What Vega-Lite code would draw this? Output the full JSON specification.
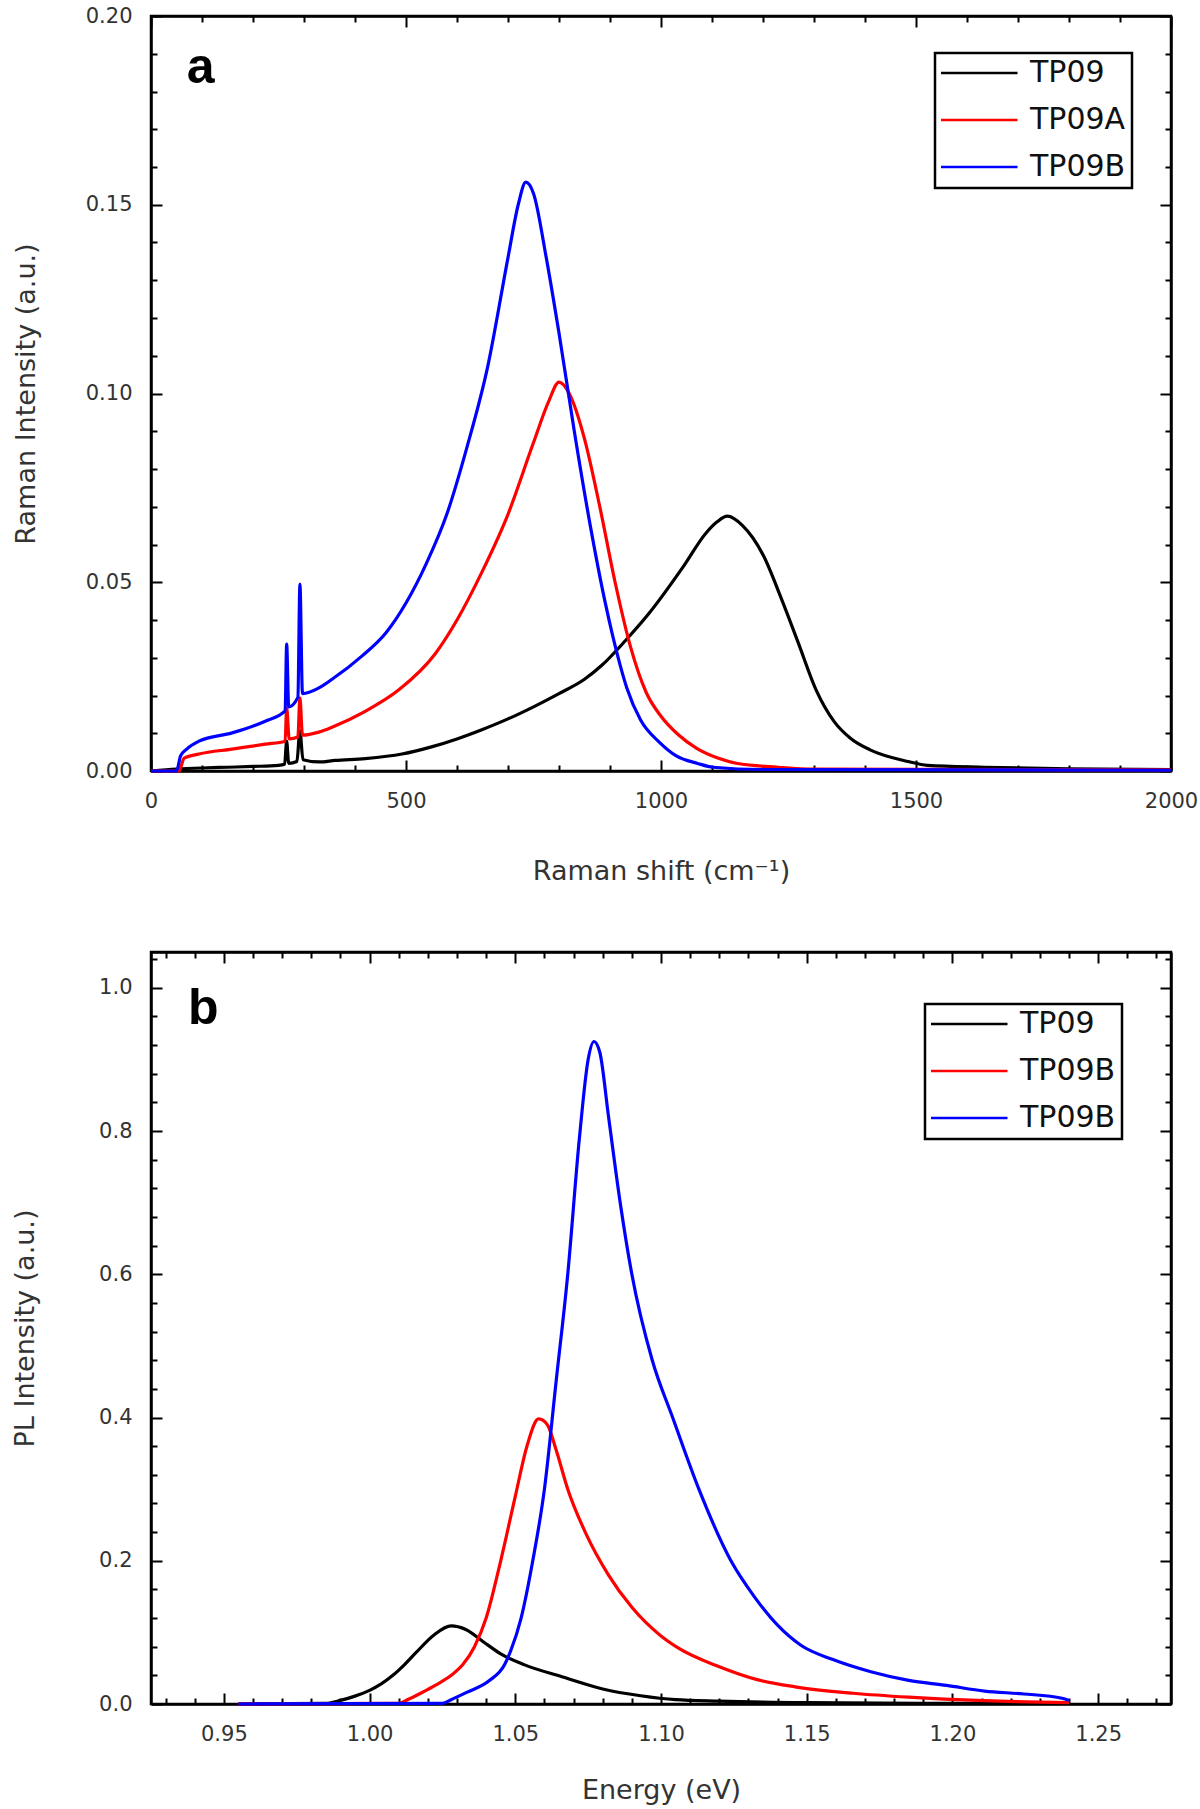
{
  "$schema": "https://vega.github.io/schema/vega-lite/v6.json",
  "background": "white",
  "padding": {"left": 10, "top": 3, "right": 10, "bottom": 5},
  "spacing": 181,
  "bounds": "flush",
  "resolve": {"scale": {"color": "independent"}, "legend": {"color": "independent"}},
  "datasets": {
    "raman": [
      {"shift": 0, "intensity": 0, "sample": "TP09"},
      {"shift": 50, "intensity": 0.0005, "sample": "TP09"},
      {"shift": 100, "intensity": 0.0008, "sample": "TP09"},
      {"shift": 150, "intensity": 0.001, "sample": "TP09"},
      {"shift": 200, "intensity": 0.0012, "sample": "TP09"},
      {"shift": 250, "intensity": 0.0015, "sample": "TP09"},
      {"shift": 262, "intensity": 0.0018, "sample": "TP09"},
      {"shift": 266, "intensity": 0.0079, "sample": "TP09"},
      {"shift": 270, "intensity": 0.002, "sample": "TP09"},
      {"shift": 286, "intensity": 0.0025, "sample": "TP09"},
      {"shift": 292, "intensity": 0.0106, "sample": "TP09"},
      {"shift": 298, "intensity": 0.003, "sample": "TP09"},
      {"shift": 330, "intensity": 0.0024, "sample": "TP09"},
      {"shift": 361, "intensity": 0.0028, "sample": "TP09"},
      {"shift": 420, "intensity": 0.0033, "sample": "TP09"},
      {"shift": 492, "intensity": 0.0045, "sample": "TP09"},
      {"shift": 550, "intensity": 0.0064, "sample": "TP09"},
      {"shift": 600, "intensity": 0.0085, "sample": "TP09"},
      {"shift": 650, "intensity": 0.011, "sample": "TP09"},
      {"shift": 700, "intensity": 0.0138, "sample": "TP09"},
      {"shift": 753, "intensity": 0.0172, "sample": "TP09"},
      {"shift": 800, "intensity": 0.0205, "sample": "TP09"},
      {"shift": 850, "intensity": 0.0243, "sample": "TP09"},
      {"shift": 884, "intensity": 0.028, "sample": "TP09"},
      {"shift": 930, "intensity": 0.0345, "sample": "TP09"},
      {"shift": 975, "intensity": 0.0415, "sample": "TP09"},
      {"shift": 1043, "intensity": 0.054, "sample": "TP09"},
      {"shift": 1088, "intensity": 0.063, "sample": "TP09"},
      {"shift": 1110, "intensity": 0.066, "sample": "TP09"},
      {"shift": 1130, "intensity": 0.0675, "sample": "TP09"},
      {"shift": 1160, "intensity": 0.065, "sample": "TP09"},
      {"shift": 1201, "intensity": 0.057, "sample": "TP09"},
      {"shift": 1235, "intensity": 0.046, "sample": "TP09"},
      {"shift": 1269, "intensity": 0.034, "sample": "TP09"},
      {"shift": 1304, "intensity": 0.0215, "sample": "TP09"},
      {"shift": 1340, "intensity": 0.013, "sample": "TP09"},
      {"shift": 1372, "intensity": 0.0086, "sample": "TP09"},
      {"shift": 1410, "intensity": 0.0056, "sample": "TP09"},
      {"shift": 1485, "intensity": 0.0025, "sample": "TP09"},
      {"shift": 1522, "intensity": 0.0015, "sample": "TP09"},
      {"shift": 1635, "intensity": 0.001, "sample": "TP09"},
      {"shift": 1800, "intensity": 0.0006, "sample": "TP09"},
      {"shift": 2000, "intensity": 0.0004, "sample": "TP09"},

      {"shift": 0, "intensity": 0, "sample": "TP09A"},
      {"shift": 55, "intensity": 0, "sample": "TP09A"},
      {"shift": 65, "intensity": 0.0034, "sample": "TP09A"},
      {"shift": 94, "intensity": 0.0045, "sample": "TP09A"},
      {"shift": 159, "intensity": 0.0058, "sample": "TP09A"},
      {"shift": 224, "intensity": 0.0071, "sample": "TP09A"},
      {"shift": 263, "intensity": 0.0079, "sample": "TP09A"},
      {"shift": 266, "intensity": 0.0167, "sample": "TP09A"},
      {"shift": 271, "intensity": 0.0085, "sample": "TP09A"},
      {"shift": 288, "intensity": 0.009, "sample": "TP09A"},
      {"shift": 292, "intensity": 0.0194, "sample": "TP09A"},
      {"shift": 297, "intensity": 0.0095, "sample": "TP09A"},
      {"shift": 329, "intensity": 0.0103, "sample": "TP09A"},
      {"shift": 355, "intensity": 0.0116, "sample": "TP09A"},
      {"shift": 420, "intensity": 0.0158, "sample": "TP09A"},
      {"shift": 486, "intensity": 0.0215, "sample": "TP09A"},
      {"shift": 557, "intensity": 0.031, "sample": "TP09A"},
      {"shift": 600, "intensity": 0.04, "sample": "TP09A"},
      {"shift": 650, "intensity": 0.053, "sample": "TP09A"},
      {"shift": 700, "intensity": 0.068, "sample": "TP09A"},
      {"shift": 750, "intensity": 0.087, "sample": "TP09A"},
      {"shift": 780, "intensity": 0.098, "sample": "TP09A"},
      {"shift": 800, "intensity": 0.103, "sample": "TP09A"},
      {"shift": 820, "intensity": 0.1, "sample": "TP09A"},
      {"shift": 850, "intensity": 0.088, "sample": "TP09A"},
      {"shift": 880, "intensity": 0.07, "sample": "TP09A"},
      {"shift": 910, "intensity": 0.05, "sample": "TP09A"},
      {"shift": 940, "intensity": 0.033, "sample": "TP09A"},
      {"shift": 971, "intensity": 0.0208, "sample": "TP09A"},
      {"shift": 1000, "intensity": 0.0145, "sample": "TP09A"},
      {"shift": 1034, "intensity": 0.0096, "sample": "TP09A"},
      {"shift": 1070, "intensity": 0.006, "sample": "TP09A"},
      {"shift": 1110, "intensity": 0.0035, "sample": "TP09A"},
      {"shift": 1150, "intensity": 0.002, "sample": "TP09A"},
      {"shift": 1230, "intensity": 0.001, "sample": "TP09A"},
      {"shift": 1300, "intensity": 0.0005, "sample": "TP09A"},
      {"shift": 2000, "intensity": 0.0003, "sample": "TP09A"},

      {"shift": 0, "intensity": 0, "sample": "TP09B"},
      {"shift": 50, "intensity": 0, "sample": "TP09B"},
      {"shift": 58, "intensity": 0.004, "sample": "TP09B"},
      {"shift": 70, "intensity": 0.0058, "sample": "TP09B"},
      {"shift": 94, "intensity": 0.0079, "sample": "TP09B"},
      {"shift": 159, "intensity": 0.0101, "sample": "TP09B"},
      {"shift": 224, "intensity": 0.0132, "sample": "TP09B"},
      {"shift": 263, "intensity": 0.0159, "sample": "TP09B"},
      {"shift": 266, "intensity": 0.0336, "sample": "TP09B"},
      {"shift": 270, "intensity": 0.017, "sample": "TP09B"},
      {"shift": 288, "intensity": 0.0195, "sample": "TP09B"},
      {"shift": 292, "intensity": 0.0495, "sample": "TP09B"},
      {"shift": 297, "intensity": 0.0205, "sample": "TP09B"},
      {"shift": 329, "intensity": 0.022, "sample": "TP09B"},
      {"shift": 355, "intensity": 0.0243, "sample": "TP09B"},
      {"shift": 414, "intensity": 0.0305, "sample": "TP09B"},
      {"shift": 460, "intensity": 0.0365, "sample": "TP09B"},
      {"shift": 500, "intensity": 0.0445, "sample": "TP09B"},
      {"shift": 540, "intensity": 0.055, "sample": "TP09B"},
      {"shift": 580, "intensity": 0.068, "sample": "TP09B"},
      {"shift": 620, "intensity": 0.086, "sample": "TP09B"},
      {"shift": 660, "intensity": 0.107, "sample": "TP09B"},
      {"shift": 700, "intensity": 0.136, "sample": "TP09B"},
      {"shift": 720, "intensity": 0.15, "sample": "TP09B"},
      {"shift": 735, "intensity": 0.156, "sample": "TP09B"},
      {"shift": 750, "intensity": 0.153, "sample": "TP09B"},
      {"shift": 775, "intensity": 0.136, "sample": "TP09B"},
      {"shift": 800, "intensity": 0.116, "sample": "TP09B"},
      {"shift": 830, "intensity": 0.09, "sample": "TP09B"},
      {"shift": 860, "intensity": 0.066, "sample": "TP09B"},
      {"shift": 890, "intensity": 0.045, "sample": "TP09B"},
      {"shift": 920, "intensity": 0.028, "sample": "TP09B"},
      {"shift": 933, "intensity": 0.022, "sample": "TP09B"},
      {"shift": 960, "intensity": 0.0135, "sample": "TP09B"},
      {"shift": 997, "intensity": 0.0076, "sample": "TP09B"},
      {"shift": 1030, "intensity": 0.004, "sample": "TP09B"},
      {"shift": 1072, "intensity": 0.002, "sample": "TP09B"},
      {"shift": 1102, "intensity": 0.001, "sample": "TP09B"},
      {"shift": 1200, "intensity": 0.0004, "sample": "TP09B"},
      {"shift": 2000, "intensity": 0.0002, "sample": "TP09B"}
    ],
    "pl": [
      {"energy": 0.955, "intensity": 0, "sample": "TP09"},
      {"energy": 0.985, "intensity": 0.001, "sample": "TP09"},
      {"energy": 0.99, "intensity": 0.005, "sample": "TP09"},
      {"energy": 0.995, "intensity": 0.011, "sample": "TP09"},
      {"energy": 1.0, "intensity": 0.019, "sample": "TP09"},
      {"energy": 1.004, "intensity": 0.028, "sample": "TP09"},
      {"energy": 1.008, "intensity": 0.04, "sample": "TP09"},
      {"energy": 1.012, "intensity": 0.055, "sample": "TP09"},
      {"energy": 1.016, "intensity": 0.072, "sample": "TP09"},
      {"energy": 1.022, "intensity": 0.096, "sample": "TP09"},
      {"energy": 1.028, "intensity": 0.109, "sample": "TP09"},
      {"energy": 1.033, "intensity": 0.104, "sample": "TP09"},
      {"energy": 1.039, "intensity": 0.087, "sample": "TP09"},
      {"energy": 1.045, "intensity": 0.07, "sample": "TP09"},
      {"energy": 1.053, "intensity": 0.055, "sample": "TP09"},
      {"energy": 1.066, "intensity": 0.038, "sample": "TP09"},
      {"energy": 1.08, "intensity": 0.021, "sample": "TP09"},
      {"energy": 1.093, "intensity": 0.0115, "sample": "TP09"},
      {"energy": 1.105, "intensity": 0.006, "sample": "TP09"},
      {"energy": 1.12, "intensity": 0.004, "sample": "TP09"},
      {"energy": 1.15, "intensity": 0.002, "sample": "TP09"},
      {"energy": 1.2, "intensity": 0.001, "sample": "TP09"},
      {"energy": 1.24, "intensity": 0.001, "sample": "TP09"},

      {"energy": 0.955, "intensity": 0, "sample": "TP09A"},
      {"energy": 1.01, "intensity": 0.001, "sample": "TP09A"},
      {"energy": 1.013, "intensity": 0.006, "sample": "TP09A"},
      {"energy": 1.018, "intensity": 0.016, "sample": "TP09A"},
      {"energy": 1.023, "intensity": 0.027, "sample": "TP09A"},
      {"energy": 1.028, "intensity": 0.04, "sample": "TP09A"},
      {"energy": 1.032, "intensity": 0.055, "sample": "TP09A"},
      {"energy": 1.036, "intensity": 0.08, "sample": "TP09A"},
      {"energy": 1.04, "intensity": 0.12, "sample": "TP09A"},
      {"energy": 1.045, "intensity": 0.2, "sample": "TP09A"},
      {"energy": 1.05, "intensity": 0.29, "sample": "TP09A"},
      {"energy": 1.054, "intensity": 0.36, "sample": "TP09A"},
      {"energy": 1.058, "intensity": 0.398, "sample": "TP09A"},
      {"energy": 1.061, "intensity": 0.39, "sample": "TP09A"},
      {"energy": 1.064, "intensity": 0.355, "sample": "TP09A"},
      {"energy": 1.068, "intensity": 0.3, "sample": "TP09A"},
      {"energy": 1.074, "intensity": 0.24, "sample": "TP09A"},
      {"energy": 1.082, "intensity": 0.18, "sample": "TP09A"},
      {"energy": 1.09, "intensity": 0.135, "sample": "TP09A"},
      {"energy": 1.1, "intensity": 0.095, "sample": "TP09A"},
      {"energy": 1.106, "intensity": 0.078, "sample": "TP09A"},
      {"energy": 1.12, "intensity": 0.052, "sample": "TP09A"},
      {"energy": 1.133, "intensity": 0.034, "sample": "TP09A"},
      {"energy": 1.146, "intensity": 0.024, "sample": "TP09A"},
      {"energy": 1.166, "intensity": 0.015, "sample": "TP09A"},
      {"energy": 1.185, "intensity": 0.0095, "sample": "TP09A"},
      {"energy": 1.211, "intensity": 0.0046, "sample": "TP09A"},
      {"energy": 1.24, "intensity": 0.002, "sample": "TP09A"},

      {"energy": 0.955, "intensity": 0, "sample": "TP09B"},
      {"energy": 1.025, "intensity": 0.001, "sample": "TP09B"},
      {"energy": 1.028, "intensity": 0.006, "sample": "TP09B"},
      {"energy": 1.0333, "intensity": 0.0162, "sample": "TP09B"},
      {"energy": 1.041, "intensity": 0.0324, "sample": "TP09B"},
      {"energy": 1.0464, "intensity": 0.0555, "sample": "TP09B"},
      {"energy": 1.0484, "intensity": 0.074, "sample": "TP09B"},
      {"energy": 1.052, "intensity": 0.12, "sample": "TP09B"},
      {"energy": 1.056, "intensity": 0.2, "sample": "TP09B"},
      {"energy": 1.06, "intensity": 0.3, "sample": "TP09B"},
      {"energy": 1.064, "intensity": 0.45, "sample": "TP09B"},
      {"energy": 1.068, "intensity": 0.6, "sample": "TP09B"},
      {"energy": 1.072, "intensity": 0.79, "sample": "TP09B"},
      {"energy": 1.075, "intensity": 0.9, "sample": "TP09B"},
      {"energy": 1.077, "intensity": 0.925, "sample": "TP09B"},
      {"energy": 1.079, "intensity": 0.91, "sample": "TP09B"},
      {"energy": 1.082, "intensity": 0.82, "sample": "TP09B"},
      {"energy": 1.086, "intensity": 0.7, "sample": "TP09B"},
      {"energy": 1.09, "intensity": 0.6, "sample": "TP09B"},
      {"energy": 1.097, "intensity": 0.48, "sample": "TP09B"},
      {"energy": 1.104, "intensity": 0.4, "sample": "TP09B"},
      {"energy": 1.113, "intensity": 0.3, "sample": "TP09B"},
      {"energy": 1.124, "intensity": 0.2, "sample": "TP09B"},
      {"energy": 1.132, "intensity": 0.15, "sample": "TP09B"},
      {"energy": 1.14, "intensity": 0.11, "sample": "TP09B"},
      {"energy": 1.148, "intensity": 0.082, "sample": "TP09B"},
      {"energy": 1.159, "intensity": 0.062, "sample": "TP09B"},
      {"energy": 1.172, "intensity": 0.045, "sample": "TP09B"},
      {"energy": 1.185, "intensity": 0.033, "sample": "TP09B"},
      {"energy": 1.198, "intensity": 0.026, "sample": "TP09B"},
      {"energy": 1.211, "intensity": 0.018, "sample": "TP09B"},
      {"energy": 1.2245, "intensity": 0.014, "sample": "TP09B"},
      {"energy": 1.2376, "intensity": 0.008, "sample": "TP09B"},
      {"energy": 1.24, "intensity": 0.005, "sample": "TP09B"}
    ]
  },
  "config": {
    "view": {"stroke": "black", "strokeWidth": 2.5},
    "axis": {
      "grid": false,
      "domainColor": "black",
      "domainWidth": 2.5,
      "tickColor": "black",
      "tickWidth": 2,
      "labelFont": "DejaVu Sans",
      "labelFontSize": 21,
      "labelColor": "#333333",
      "labelOverlap": false,
      "labelFlush": false,
      "titleFont": "DejaVu Sans",
      "titleFontSize": 27,
      "titleFontWeight": "normal",
      "titleColor": "#333333"
    },
    "legend": {
      "orient": "none",
      "strokeColor": "black",
      "strokeWidth": 2.5,
      "fillColor": "white",
      "padding": 6,
      "symbolType": "stroke",
      "symbolSize": 6241,
      "symbolStrokeWidth": 2.5,
      "symbolOffset": -4,
      "clipHeight": 28,
      "rowPadding": 17,
      "labelOffset": 11,
      "labelFont": "DejaVu Sans",
      "labelFontSize": 30,
      "labelColor": "#111111",
      "title": null
    }
  },
  "vconcat": [
    {
      "width": 1020,
      "height": 755,
      "layer": [
        {
          "data": {"name": "raman"},
          "mark": {"type": "line", "strokeWidth": 3.2, "interpolate": "monotone"},
          "encoding": {
            "x": {
              "field": "shift", "type": "quantitative",
              "scale": {"domain": [0, 2000], "nice": false, "zero": false},
              "axis": {
                "orient": "bottom",
                "values": [0,100,200,300,400,500,600,700,800,900,1000,1100,1200,1300,1400,1500,1600,1700,1800,1900,2000],
                "format": "d",
                "labelExpr": "datum.value % 500 == 0 ? datum.label : ''",
                "tickSize": {"condition": {"test": "datum.value % 500 == 0", "value": -11}, "value": -6},
                "labelPadding": 30,
                "title": "Raman shift (cm⁻¹)",
                "titlePadding": 42
              }
            },
            "y": {
              "field": "intensity", "type": "quantitative",
              "scale": {"domain": [0, 0.2], "nice": false},
              "axis": {
                "orient": "left",
                "values": [0,0.01,0.02,0.03,0.04,0.05,0.06,0.07,0.08,0.09,0.1,0.11,0.12,0.13,0.14,0.15,0.16,0.17,0.18,0.19,0.2],
                "format": ".2f",
                "labelExpr": "round(datum.value*100) % 5 == 0 ? datum.label : ''",
                "tickSize": {"condition": {"test": "round(datum.value*100) % 5 == 0", "value": -11}, "value": -6},
                "labelPadding": 30,
                "title": "Raman Intensity (a.u.)",
                "titlePadding": 45
              }
            },
            "color": {
              "field": "sample", "type": "nominal",
              "scale": {"domain": ["TP09", "TP09A", "TP09B"], "range": ["#000000", "#ff0000", "#0000ff"]},
              "legend": {"legendX": 784, "legendY": 37}
            }
          }
        },
        {
          "data": {"values": [{"panel": "a", "shift": 70, "intensity": 0.1823}]},
          "mark": {"type": "text", "font": "Liberation Sans", "fontWeight": "bold", "fontSize": 50, "align": "left", "baseline": "alphabetic", "color": "black"},
          "encoding": {
            "x": {"field": "shift", "type": "quantitative",
              "axis": {"orient": "top", "values": [0,100,200,300,400,500,600,700,800,900,1000,1100,1200,1300,1400,1500,1600,1700,1800,1900,2000], "labels": false, "title": null,
                "tickSize": {"condition": {"test": "datum.value % 500 == 0", "value": -11}, "value": -6}}},
            "y": {"field": "intensity", "type": "quantitative",
              "axis": {"orient": "right", "values": [0,0.01,0.02,0.03,0.04,0.05,0.06,0.07,0.08,0.09,0.1,0.11,0.12,0.13,0.14,0.15,0.16,0.17,0.18,0.19,0.2], "labels": false, "title": null,
                "tickSize": {"condition": {"test": "round(datum.value*100) % 5 == 0", "value": -11}, "value": -6}}},
            "text": {"field": "panel"}
          }
        }
      ],
      "resolve": {"axis": {"x": "independent", "y": "independent"}}
    },
    {
      "width": 1020,
      "height": 752,
      "layer": [
        {
          "data": {"name": "pl"},
          "mark": {"type": "line", "strokeWidth": 3.2, "interpolate": "monotone"},
          "encoding": {
            "x": {
              "field": "energy", "type": "quantitative",
              "scale": {"domain": [0.925, 1.275], "nice": false, "zero": false},
              "axis": {
                "orient": "bottom",
                "values": [0.93,0.94,0.95,0.96,0.97,0.98,0.99,1.0,1.01,1.02,1.03,1.04,1.05,1.06,1.07,1.08,1.09,1.1,1.11,1.12,1.13,1.14,1.15,1.16,1.17,1.18,1.19,1.2,1.21,1.22,1.23,1.24,1.25,1.26,1.27],
                "format": ".2f",
                "labelExpr": "round(datum.value*100) % 5 == 0 ? datum.label : ''",
                "tickSize": {"condition": {"test": "round(datum.value*100) % 5 == 0", "value": -11}, "value": -6},
                "labelPadding": 30,
                "title": "Energy (eV)",
                "titlePadding": 28
              }
            },
            "y": {
              "field": "intensity", "type": "quantitative",
              "scale": {"domain": [0, 1.05], "nice": false},
              "axis": {
                "orient": "left",
                "values": [0,0.04,0.08,0.12,0.16,0.2,0.24,0.28,0.32,0.36,0.4,0.44,0.48,0.52,0.56,0.6,0.64,0.68,0.72,0.76,0.8,0.84,0.88,0.92,0.96,1.0,1.04],
                "format": ".1f",
                "labelExpr": "round(datum.value*100) % 20 == 0 ? datum.label : ''",
                "tickSize": {"condition": {"test": "round(datum.value*100) % 20 == 0", "value": -11}, "value": -6},
                "labelPadding": 30,
                "title": "PL Intensity (a.u.)",
                "titlePadding": 59
              }
            },
            "color": {
              "field": "sample", "type": "nominal",
              "scale": {"domain": ["TP09", "TP09A", "TP09B"], "range": ["#000000", "#ff0000", "#0000ff"]},
              "legend": {"legendX": 774, "legendY": 52, "labelExpr": "datum.label == 'TP09A' ? 'TP09B' : datum.label"}
            }
          }
        },
        {
          "data": {"values": [{"panel": "b", "energy": 0.9377, "intensity": 0.95}]},
          "mark": {"type": "text", "font": "Liberation Sans", "fontWeight": "bold", "fontSize": 50, "align": "left", "baseline": "alphabetic", "color": "black"},
          "encoding": {
            "x": {"field": "energy", "type": "quantitative",
              "axis": {"orient": "top", "values": [0.93,0.94,0.95,0.96,0.97,0.98,0.99,1.0,1.01,1.02,1.03,1.04,1.05,1.06,1.07,1.08,1.09,1.1,1.11,1.12,1.13,1.14,1.15,1.16,1.17,1.18,1.19,1.2,1.21,1.22,1.23,1.24,1.25,1.26,1.27], "labels": false, "title": null,
                "tickSize": {"condition": {"test": "round(datum.value*100) % 5 == 0", "value": -11}, "value": -6}}},
            "y": {"field": "intensity", "type": "quantitative",
              "axis": {"orient": "right", "values": [0,0.04,0.08,0.12,0.16,0.2,0.24,0.28,0.32,0.36,0.4,0.44,0.48,0.52,0.56,0.6,0.64,0.68,0.72,0.76,0.8,0.84,0.88,0.92,0.96,1.0,1.04], "labels": false, "title": null,
                "tickSize": {"condition": {"test": "round(datum.value*100) % 20 == 0", "value": -11}, "value": -6}}},
            "text": {"field": "panel"}
          }
        }
      ],
      "resolve": {"axis": {"x": "independent", "y": "independent"}}
    }
  ]
}
